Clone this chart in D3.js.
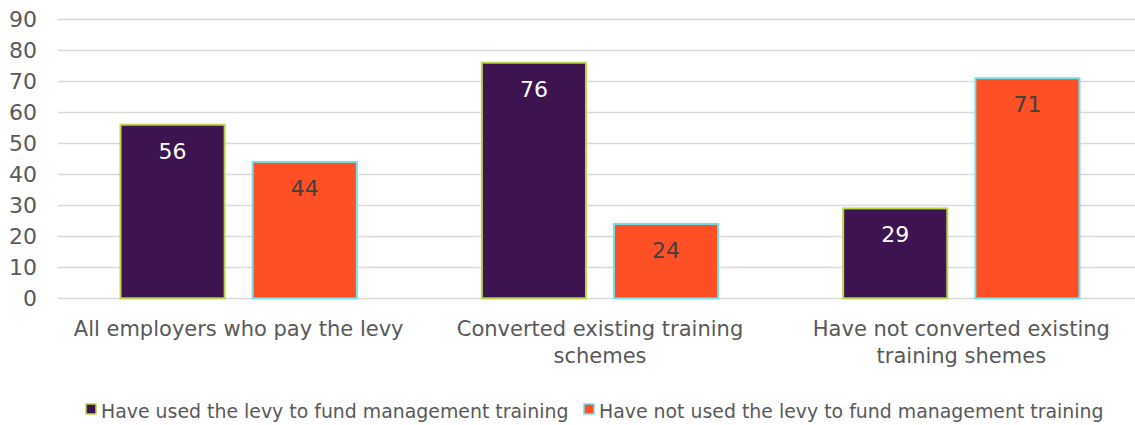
<!DOCTYPE html>
<html>
<head>
<meta charset="utf-8">
<script src="https://cdn.jsdelivr.net/npm/d3@7"></script>
<style>
  body { margin: 0; background: #fff; }
  text { font-family: "DejaVu Sans", sans-serif; fill: #595959; }
</style>
</head>
<body>
<script>
var w = 1135;
var h = 425;

// data
var categories = ["All employers who pay the levy", "Converted existing training schemes", "Have not converted existing training shemes"];
var categoryLines = [["All employers who pay the levy"], ["Converted existing training", "schemes"], ["Have not converted existing", "training shemes"]];
var seriesNames = ["Have used the levy to fund management training", "Have not used the levy to fund management training"];
var usedLevy = [56, 76, 29];
var notUsedLevy = [44, 24, 71];
var yTicks = [0, 10, 20, 30, 40, 50, 60, 70, 80, 90];

var fills = ["#3e1450", "#ff4f25"];
var strokes = ["#bcd64a", "#6ee3ee"];
var labelColors = ["#ffffff", "#404040"];

var rows = categories.map(function(c, i) {
    return { cat: c, values: [usedLevy[i], notUsedLevy[i]] };
});

var plotLeft = 58, plotRight = 1142, plotTop = 19.3, plotBottom = 298.3;

var x0 = d3.scaleBand()
    .domain(categories)
    .range([plotLeft, plotRight]);

var x1 = d3.scaleBand()
    .domain(d3.range(seriesNames.length))
    .range([0, x0.bandwidth()])
    .paddingInner(0.212)
    .paddingOuter(0.473);

var y = d3.scaleLinear()
    .domain([0, 90])
    .range([plotBottom, plotTop]);

var svg = d3.select("body")
    .append("svg")
    .attr("width", w)
    .attr("height", h);

// gridlines
svg.append("g")
    .selectAll("line")
    .data(yTicks)
    .enter()
    .append("line")
    .attr("x1", plotLeft)
    .attr("x2", w)
    .attr("y1", function(d) { return Math.round(y(d)) + 0.5; })
    .attr("y2", function(d) { return Math.round(y(d)) + 0.5; })
    .attr("stroke", "#d9d9d9")
    .attr("stroke-width", 1.5);

// y axis labels
var yAxis = d3.axisLeft(y).tickValues(yTicks).tickSize(0).tickPadding(0);
var yg = svg.append("g")
    .attr("transform", "translate(37,0)")
    .call(yAxis);
yg.select(".domain").remove();
yg.selectAll("text")
    .attr("font-size", 22)
    .attr("font-family", "DejaVu Sans, sans-serif")
    .attr("fill", "#595959");

// bars
var groups = svg.selectAll("g.cat")
    .data(rows)
    .enter()
    .append("g")
    .attr("class", "cat")
    .attr("transform", function(d) { return "translate(" + x0(d.cat) + ",0)"; });

groups.selectAll("rect")
    .data(function(d) { return d.values; })
    .enter()
    .append("rect")
    .attr("x", function(d, i) { return x1(i); })
    .attr("y", function(d) { return y(d); })
    .attr("width", x1.bandwidth())
    .attr("height", function(d) { return plotBottom - y(d); })
    .attr("fill", function(d, i) { return fills[i]; })
    .attr("stroke", function(d, i) { return strokes[i]; })
    .attr("stroke-width", 2);

groups.selectAll("text.val")
    .data(function(d) { return d.values; })
    .enter()
    .append("text")
    .attr("class", "val")
    .attr("x", function(d, i) { return x1(i) + x1.bandwidth() / 2; })
    .attr("y", function(d) { return y(d) + 34; })
    .attr("text-anchor", "middle")
    .attr("font-size", 22)
    .style("fill", function(d, i) { return labelColors[i]; })
    .text(function(d) { return d; });

// category labels
svg.selectAll("text.catlabel")
    .data(categories)
    .enter()
    .append("text")
    .attr("class", "catlabel")
    .attr("x", function(d) { return x0(d) + x0.bandwidth() / 2; })
    .attr("y", 336)
    .attr("text-anchor", "middle")
    .attr("font-size", 21)
    .each(function(d, i) {
        var t = d3.select(this);
        categoryLines[i].forEach(function(line, j) {
            t.append("tspan")
                .attr("x", x0(d) + x0.bandwidth() / 2)
                .attr("dy", j === 0 ? 0 : 27)
                .text(line);
        });
    });

// legend
var legendX = [86, 584];
var legend = svg.selectAll("g.legend")
    .data(seriesNames)
    .enter()
    .append("g")
    .attr("class", "legend")
    .attr("transform", function(d, i) { return "translate(" + legendX[i] + ",404)"; });

legend.append("rect")
    .attr("width", 10)
    .attr("height", 10)
    .attr("fill", function(d, i) { return fills[i]; })
    .attr("stroke", function(d, i) { return strokes[i]; })
    .attr("stroke-width", 1.5);

legend.append("text")
    .attr("x", 15)
    .attr("y", 14)
    .attr("font-size", 18.9)
    .text(function(d) { return d; });
</script>
</body>
</html>
